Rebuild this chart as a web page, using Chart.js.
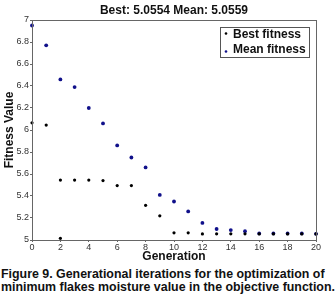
<!DOCTYPE html>
<html>
<head>
<meta charset="utf-8">
<script src="https://cdn.jsdelivr.net/npm/chart.js@4"></script>
<style>
  body { margin: 0; background: #fff; width: 335px; height: 302px; overflow: hidden; position: relative; }
  #wrap { position: absolute; left: 0; top: 0; width: 335px; height: 264px; }
  #caption {
    position: absolute; left: 1px; top: 268px; width: 334px;
    font-family: "Liberation Sans", Arial, sans-serif; font-size: 12.4px; line-height: 13px;
    color: #111; font-weight: bold; white-space: nowrap;
  }
</style>
</head>
<body>
<div id="wrap"><canvas id="chart" width="335" height="264"></canvas></div>
<div id="caption">Figure 9. Generational iterations for the optimization of<br>minimum flakes moisture value in the objective function.</div>
<script>
const chart_title = "Best: 5.0554 Mean: 5.0559";
const x_title = "Generation";
const series_labels = ["Best fitness", "Mean fitness"];

// generations 0..20 (best has an extra stray point at gen 2)
const mean_gen = [0, 1, 2, 3, 4, 5, 6, 7, 8, 9, 10, 11, 12, 13, 14, 15, 16, 17, 18, 19, 20];
const mean_val = [6.95, 6.77, 6.46, 6.39, 6.20, 6.06, 5.86, 5.75, 5.66, 5.41, 5.35, 5.26, 5.155, 5.10, 5.09, 5.08, 5.06, 5.06, 5.06, 5.06, 5.056];

const best_gen = [0, 1, 2, 2, 3, 4, 5, 6, 7, 8, 9, 10, 11, 12, 13, 14, 15, 16, 17, 18, 19, 20];
const best_val = [6.065, 6.045, 5.545, 5.015, 5.545, 5.545, 5.54, 5.495, 5.495, 5.315, 5.22, 5.065, 5.065, 5.055, 5.056, 5.056, 5.056, 5.055, 5.055, 5.055, 5.055, 5.055];

const x_ticks = [0, 2, 4, 6, 8, 10, 12, 14, 16, 18, 20];
const y_ticks = [5, 5.2, 5.4, 5.6, 5.8, 6, 6.2, 6.4, 6.6, 6.8, 7];

const colours = ["#000000", "#10108a"];
const font_family = '"Liberation Sans", Arial, sans-serif';

function toPoints(xs, ys) {
    return xs.map((x, i) => ({x: x, y: ys[i]}));
}

// title, x title, plot box and legend box in the matlab style
const matlabBits = {
    id: "matlabBits",
    afterDraw(chart) {
        const ctx = chart.ctx;
        const a = chart.chartArea;
        ctx.save();

        ctx.strokeStyle = "#666";
        ctx.lineWidth = 1;
        ctx.strokeRect(a.left + 0.5, a.top + 0.5, a.right - a.left, a.bottom - a.top);

        ctx.fillStyle = "#111";
        ctx.font = "bold 12px " + font_family;
        ctx.textAlign = "center";
        ctx.textBaseline = "middle";
        ctx.fillText(chart_title, (a.left + a.right) / 2, 11);
        ctx.fillText(x_title, (a.left + a.right) / 2, 257);

        // legend
        const lx = 220, ly = 27, lw = 89, lh = 30;
        ctx.fillStyle = "#fff";
        ctx.fillRect(lx, ly, lw, lh);
        ctx.strokeStyle = "#555";
        ctx.strokeRect(lx + 0.5, ly + 0.5, lw, lh);
        ctx.textAlign = "left";
        chart.data.datasets.forEach((ds, i) => {
            const yy = ly + 7.5 + i * 15;
            ctx.fillStyle = ds.backgroundColor;
            ctx.beginPath();
            ctx.arc(lx + 6, yy + (i === 0 ? -1 : 2), 1.3, 0, Math.PI * 2);
            ctx.fill();
            ctx.fillStyle = "#111";
            ctx.fillText(ds.label, lx + 13, yy);
        });
        ctx.restore();
    }
};

const ctx_chart = document.getElementById("chart").getContext("2d");

new Chart(ctx_chart, {
    type: "scatter",
    data: {
        datasets: [
            {
                label: series_labels[0],
                data: toPoints(best_gen, best_val),
                backgroundColor: colours[0],
                borderColor: colours[0],
                pointRadius: 1.6,
                pointBorderWidth: 0,
                clip: false
            },
            {
                label: series_labels[1],
                data: toPoints(mean_gen, mean_val),
                backgroundColor: colours[1],
                borderColor: colours[1],
                pointRadius: 1.9,
                pointBorderWidth: 0,
                clip: false
            }
        ]
    },
    options: {
        responsive: false,
        animation: false,
        layout: { padding: { left: 0, right: 19, top: 20, bottom: 0 } },
        plugins: {
            legend: { display: false },
            tooltip: { enabled: false }
        },
        scales: {
            x: {
                type: "linear",
                min: 0,
                max: 20,
                afterBuildTicks: (s) => { s.ticks = x_ticks.map(v => ({value: v})); },
                afterFit: (s) => { s.height = 24; },
                grid: { drawOnChartArea: false, tickLength: 2, color: "#666" },
                border: { color: "#666" },
                ticks: {
                    padding: 0,
                    maxRotation: 0,
                    color: "#333",
                    font: { family: font_family, size: 9 }
                }
            },
            y: {
                min: 5,
                max: 7,
                afterBuildTicks: (s) => { s.ticks = y_ticks.map(v => ({value: v})); },
                afterFit: (s) => { s.width = 32; },
                grid: { drawOnChartArea: false, tickLength: 2, color: "#666" },
                border: { color: "#666" },
                ticks: {
                    padding: 1,
                    color: "#333",
                    font: { family: font_family, size: 9 },
                    callback: (v) => String(Number(v.toFixed(1)))
                },
                title: {
                    display: true,
                    text: "Fitness Value",
                    color: "#111",
                    padding: { top: 2, bottom: 0 },
                    font: { family: font_family, size: 12, weight: "bold" }
                }
            }
        }
    },
    plugins: [matlabBits]
});
</script>
</body>
</html>
